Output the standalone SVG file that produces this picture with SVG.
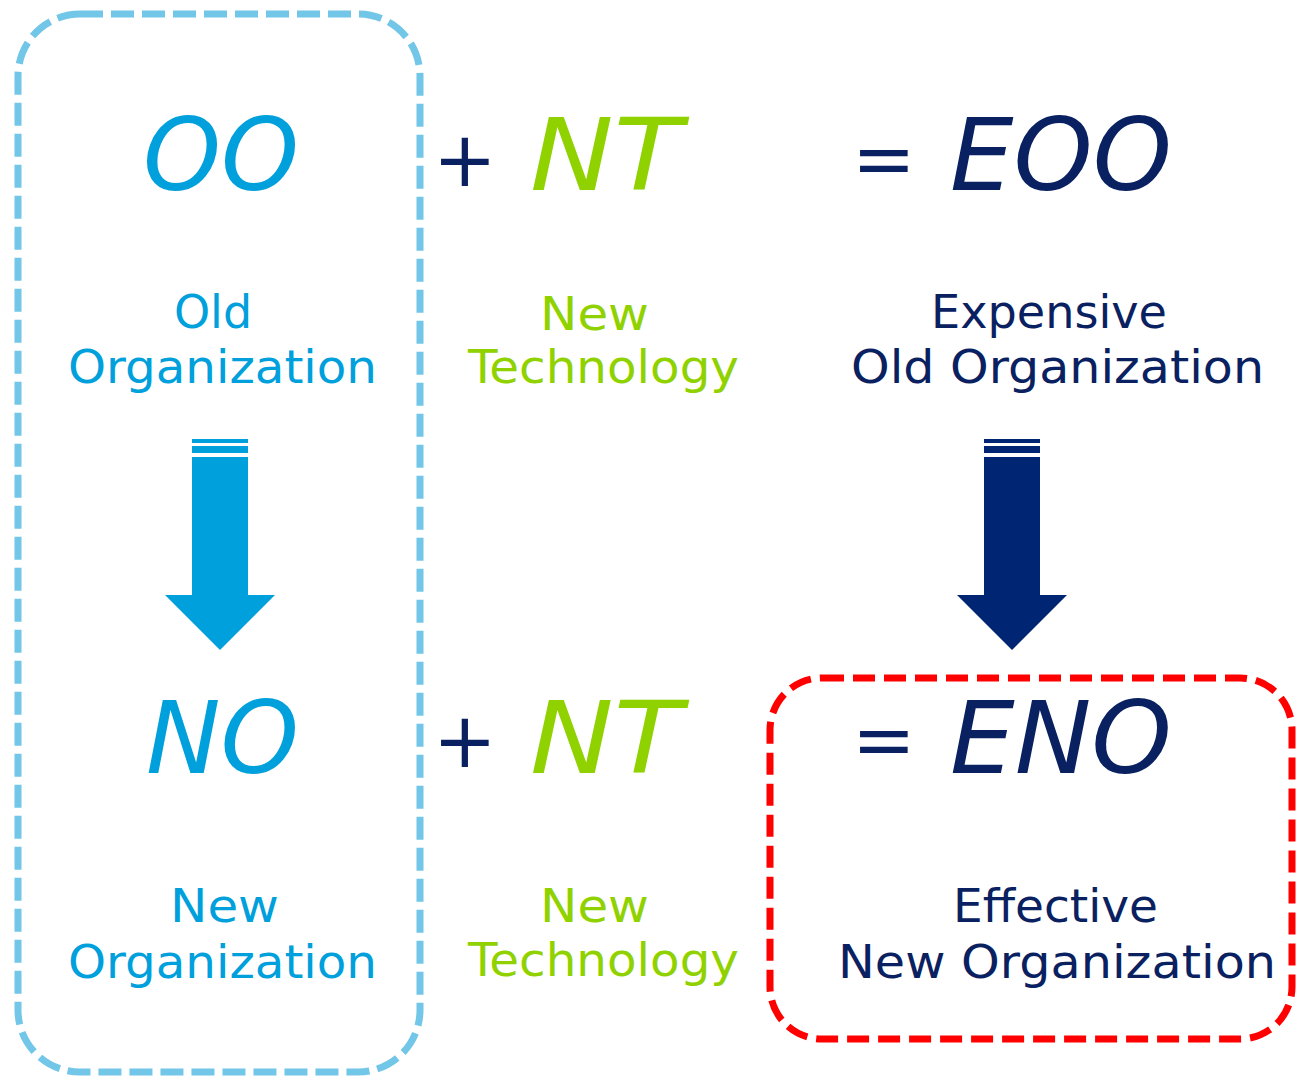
<svg xmlns="http://www.w3.org/2000/svg" width="1297" height="1081" viewBox="0 0 1297 1081">
  <style>
    text { font-family: "DejaVu Sans", "Noto Sans", sans-serif; }
    .big { font-size: 100px; font-style: italic; }
    .op { font-size: 76px; }
    .lbl { font-size: 46px; }
    .cyan { fill: #00A0DC; }
    .green { fill: #8FD200; }
    .navy { fill: #0A2161; }
    .frame { fill: none; stroke-width: 7; }
  </style>

  <!-- dashed frames -->
  <g id="frames">
    <rect id="old-new-org-frame" class="frame" x="18" y="14" width="402" height="1058" rx="62" ry="62" stroke="#72C6E7" stroke-dasharray="23 8"/>
    <rect id="eno-frame" class="frame" x="770" y="678" width="522" height="361" rx="52" ry="52" stroke="#FF0000" stroke-dasharray="22 9"/>
  </g>

  <!-- top row: OO + NT = EOO -->
  <g id="oo">
    <text class="big cyan" x="143" y="190" textLength="156" lengthAdjust="spacingAndGlyphs">OO</text>
    <text class="lbl cyan" x="213" y="328" text-anchor="middle">Old</text>
    <text class="lbl cyan" x="68" y="383" textLength="309" lengthAdjust="spacingAndGlyphs">Organization</text>
  </g>
  <g id="plus-top">
    <text class="op navy" x="433" y="186">+</text>
  </g>
  <g id="nt-top">
    <text class="big green" x="530" y="190" textLength="152" lengthAdjust="spacingAndGlyphs">NT</text>
    <text class="lbl green" x="540" y="330" textLength="109" lengthAdjust="spacingAndGlyphs">New</text>
    <text class="lbl green" x="468" y="383" textLength="271" lengthAdjust="spacingAndGlyphs">Technology</text>
  </g>
  <g id="equals-top">
    <text class="op navy" x="852" y="185">=</text>
  </g>
  <g id="eoo">
    <text class="big navy" x="950" y="190" textLength="222" lengthAdjust="spacingAndGlyphs">EOO</text>
    <text class="lbl navy" x="931" y="328" textLength="236" lengthAdjust="spacingAndGlyphs">Expensive</text>
    <text class="lbl navy" x="851" y="383" textLength="413" lengthAdjust="spacingAndGlyphs">Old Organization</text>
  </g>

  <!-- transition arrows -->
  <g id="connectors">
    <g id="arrow-oo-no" fill="#00A0DC">
      <rect x="192" y="439" width="56" height="4"/>
      <rect x="192" y="446" width="56" height="7"/>
      <path d="M192 457 H248 V595 H275 L220 650 L165 595 H192 Z"/>
    </g>
    <g id="arrow-eoo-eno" fill="#002673">
      <rect x="984" y="439" width="56" height="4"/>
      <rect x="984" y="446" width="56" height="7"/>
      <path d="M984 457 H1040 V595 H1067 L1012 650 L957 595 H984 Z"/>
    </g>
  </g>

  <!-- bottom row: NO + NT = ENO -->
  <g id="no">
    <text class="big cyan" x="146" y="773" textLength="153" lengthAdjust="spacingAndGlyphs">NO</text>
    <text class="lbl cyan" x="170" y="922" textLength="109" lengthAdjust="spacingAndGlyphs">New</text>
    <text class="lbl cyan" x="68" y="978" textLength="309" lengthAdjust="spacingAndGlyphs">Organization</text>
  </g>
  <g id="plus-bottom">
    <text class="op navy" x="433" y="767">+</text>
  </g>
  <g id="nt-bottom">
    <text class="big green" x="530" y="773" textLength="152" lengthAdjust="spacingAndGlyphs">NT</text>
    <text class="lbl green" x="540" y="922" textLength="109" lengthAdjust="spacingAndGlyphs">New</text>
    <text class="lbl green" x="468" y="976" textLength="271" lengthAdjust="spacingAndGlyphs">Technology</text>
  </g>
  <g id="equals-bottom">
    <text class="op navy" x="852" y="766">=</text>
  </g>
  <g id="eno">
    <text class="big navy" x="950" y="773" textLength="222" lengthAdjust="spacingAndGlyphs">ENO</text>
    <text class="lbl navy" x="953" y="922" textLength="205" lengthAdjust="spacingAndGlyphs">Effective</text>
    <text class="lbl navy" x="838" y="978" textLength="438" lengthAdjust="spacingAndGlyphs">New Organization</text>
  </g>
</svg>
